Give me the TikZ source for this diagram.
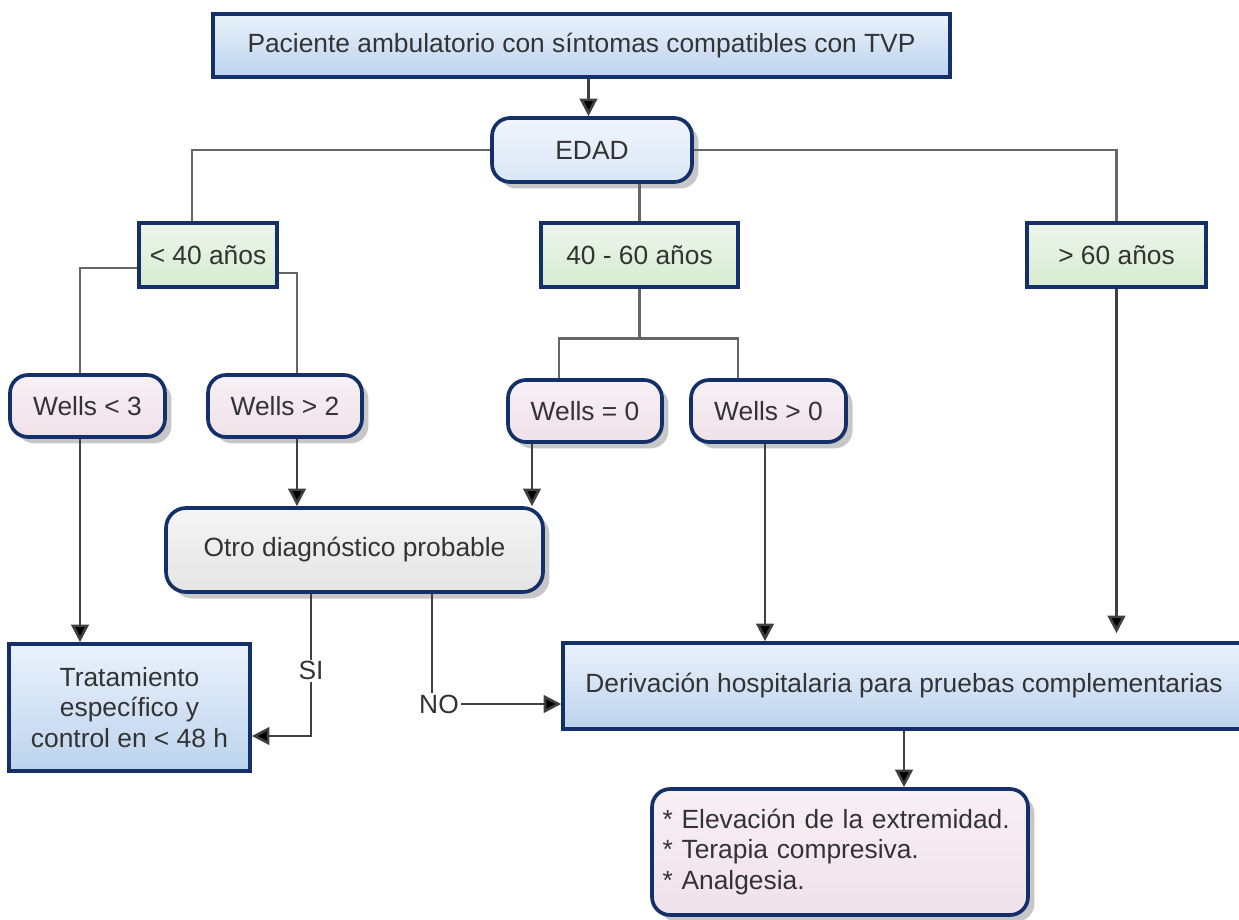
\documentclass[tikz,border=0pt]{standalone}
\usepackage{fontspec}
\setmainfont{Liberation Sans}
\usetikzlibrary{arrows.meta,shadows,calc}

\definecolor{navy}{HTML}{13306B}
\definecolor{txt}{HTML}{333333}
\definecolor{wire}{HTML}{666666}
\definecolor{blueT}{HTML}{EAF2FB}
\definecolor{blueB}{HTML}{BCD3EE}
\definecolor{greenT}{HTML}{EEF6EC}
\definecolor{greenB}{HTML}{D6EBD0}
\definecolor{pinkT}{HTML}{F7F0F4}
\definecolor{pinkB}{HTML}{F0E1E9}
\definecolor{grayT}{HTML}{F5F5F5}
\definecolor{grayB}{HTML}{E4E4E4}
\definecolor{edadT}{HTML}{F0F5FC}
\definecolor{edadB}{HTML}{DAE6F5}

\tikzset{
  base/.style={draw=navy, line width=2.1pt, text=txt, align=center,
    font=\fontsize{15}{17}\selectfont, inner sep=2pt},
  shade/.style={drop shadow={shadow xshift=0.13cm, shadow yshift=-0.13cm,
    fill=black, opacity=0.22}},
  bluebox/.style={base, rectangle, top color=blueT, bottom color=blueB},
  agebox/.style={base, rectangle, top color=greenT, bottom color=greenB},
  edadbox/.style={base, rounded corners=0.36cm, shade, top color=edadT, bottom color=edadB},
  wellsbox/.style={base, rounded corners=0.36cm, shade, top color=pinkT, bottom color=pinkB},
  otrobox/.style={base, rounded corners=0.4cm, shade, top color=grayT, bottom color=grayB},
  link/.style={draw=wire, line width=1.6pt},
  arrow/.style={draw=black!75, line width=1.5pt,
    -{Triangle[length=10pt, width=10pt, fill=black]}},
  lbl/.style={fill=white, text=txt, inner sep=1pt, font=\fontsize{15}{17}\selectfont},
}

\begin{document}
\begin{tikzpicture}[x=0.02cm, y=-0.02cm]
\useasboundingbox (0,0) rectangle (1239,919);

% boxes
\node[bluebox, minimum width=14.74cm, minimum height=1.26cm] (pac) at (581.5,45.5)
  {Paciente ambulatorio con síntomas compatibles con TVP};
\node[edadbox, minimum width=4.0cm, minimum height=1.28cm] (edad) at (592,150) {EDAD};

\node[agebox, minimum width=2.76cm, minimum height=1.28cm] (age1) at (208,255) {< 40 años};
\node[agebox, minimum width=3.94cm, minimum height=1.28cm] (age2) at (639.5,255) {40 - 60 años};
\node[agebox, minimum width=3.58cm, minimum height=1.28cm] (age3) at (1116.5,255) {> 60 años};

\node[wellsbox, minimum width=3.1cm, minimum height=1.24cm] (w1) at (87.5,406) {Wells < 3};
\node[wellsbox, minimum width=3.08cm, minimum height=1.24cm] (w2) at (285,406) {Wells > 2};
\node[wellsbox, minimum width=3.08cm, minimum height=1.24cm] (w3) at (585,411) {Wells = 0};
\node[wellsbox, minimum width=3.1cm, minimum height=1.24cm] (w4) at (768.5,411) {Wells > 0};

\node[otrobox, minimum width=7.54cm, minimum height=1.68cm] (otro) at (354.5,550)
  {Otro diagnóstico probable};

\node[bluebox, minimum width=4.82cm, minimum height=2.54cm, font=\fontsize{15}{17.2}\selectfont]
  (trat) at (129.5,707.5) {Tratamiento\\específico y\\control en < 48 h};
\node[bluebox, minimum width=13.64cm, minimum height=1.72cm] (deriv) at (904,686)
  {Derivación hospitalaria para pruebas complementarias};

\node[wellsbox, minimum width=7.52cm, minimum height=2.52cm, align=left,
  text width=7.1cm, font=\fontsize{15}{17.4}\selectfont] (med) at (840,852)
  {{*} Elevación de la extremidad.\\{*} Terapia compresiva.\\{*} Analgesia.};

% connectors
\draw[arrow] ([xshift=0.14cm]pac.south) -- ([xshift=0.14cm]pac.south |- edad.north);
\draw[link] (edad.west) -| ([xshift=-0.32cm]age1.north);
\draw[link] (edad.east) -| (age3.north);
\draw[link] (age2.north |- edad.south) -- (age2.north);

\draw[link] ([yshift=-0.26cm]age1.west) -| ([xshift=-0.15cm]w1.north);
\draw[link] ([yshift=-0.36cm]age1.east) -| ([xshift=0.24cm]w2.north);

\draw[link] (age2.south) -- ++(0,50) coordinate (split);
\draw[link] ([xshift=-0.52cm]w3.north) |- (split) -| ([xshift=-0.61cm]w4.north);

\draw[arrow] ([xshift=-0.15cm]w1.south) -- ([xshift=-0.15cm]w1.south |- trat.north);
\draw[arrow] ([xshift=0.24cm]w2.south) -- ([xshift=0.24cm]w2.south |- otro.north);
\draw[arrow] ([xshift=-1.06cm]w3.south) -- ([xshift=-1.06cm]w3.south |- otro.north);
\draw[arrow] ([xshift=-0.07cm]w4.south) -- ([xshift=-0.07cm]w4.south |- deriv.north);
\draw[arrow, shorten >=0.16cm] (age3.south) -- (age3.south |- deriv.north);

\draw[arrow] ([xshift=-0.87cm]otro.south) |- ([yshift=-0.57cm]trat.east)
  node[lbl, pos=0.27] {SI};
\draw[arrow] ([xshift=1.55cm]otro.south) |- ([yshift=-0.36cm]deriv.west)
  node[lbl, pos=0.5, xshift=0.14cm] {NO};

\draw[arrow] (deriv.south) -- (deriv.south |- med.north);
\end{tikzpicture}
\end{document}
